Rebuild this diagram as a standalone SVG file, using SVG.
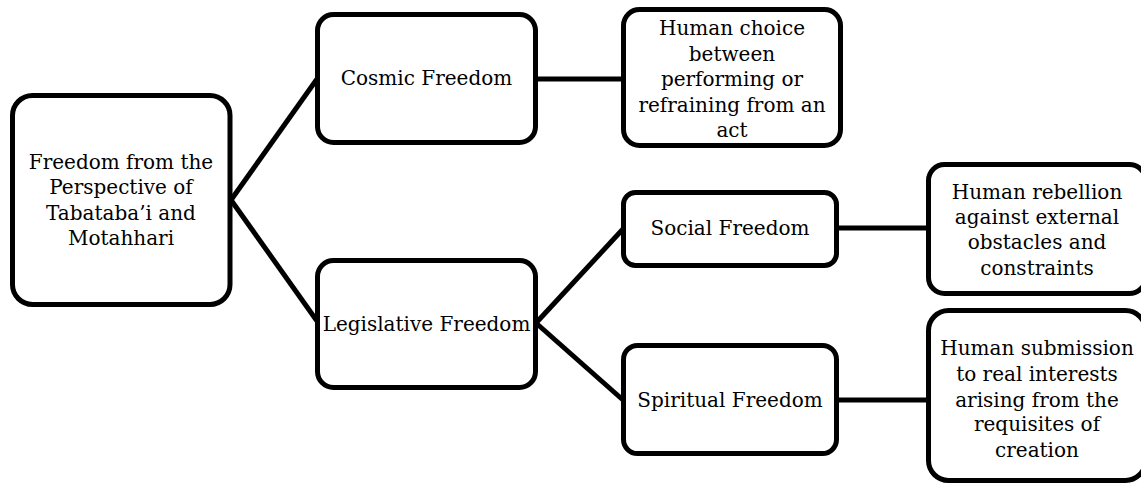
<svg xmlns="http://www.w3.org/2000/svg" width="1141" height="485" viewBox="0 0 1141 485">
<style>
.box{fill:#fff;stroke:#000;stroke-width:5}
.conn{stroke:#000;stroke-width:5;fill:none}
text{font-family:"DejaVu Serif","Liberation Serif",serif;font-size:20px;fill:#000;text-anchor:middle}
</style>
<rect width="1141" height="485" fill="#fff"/>
<g id="connectors">
<line class="conn" x1="231" y1="200" x2="317" y2="79"/>
<line class="conn" x1="231" y1="200" x2="317" y2="321"/>
<line class="conn" x1="536" y1="79" x2="623" y2="79"/>
<line class="conn" x1="536" y1="323" x2="623" y2="229"/>
<line class="conn" x1="536" y1="323" x2="623" y2="400"/>
<line class="conn" x1="837" y1="228" x2="928" y2="228"/>
<line class="conn" x1="837" y1="400" x2="928" y2="400"/>
</g>
<g id="root">
<rect class="box" x="12.5" y="95.5" width="217.5" height="209" rx="20"/>
<text x="121" y="169">Freedom from the</text>
<text x="121" y="194">Perspective of</text>
<text x="121" y="219.5">Tabataba’i and</text>
<text x="121" y="245">Motahhari</text>
</g>
<g id="cosmic">
<rect class="box" x="317.5" y="14.5" width="218" height="128" rx="16"/>
<text x="426.5" y="85">Cosmic Freedom</text>
</g>
<g id="choice">
<rect class="box" x="623.5" y="9.5" width="217" height="136" rx="16"/>
<text x="732" y="35">Human choice</text>
<text x="732" y="60.5">between</text>
<text x="732" y="86">performing or</text>
<text x="732" y="111.5">refraining from an</text>
<text x="732" y="137">act</text>
</g>
<g id="legislative">
<rect class="box" x="317.5" y="260.5" width="218" height="127" rx="16"/>
<text x="426.5" y="331">Legislative Freedom</text>
</g>
<g id="social">
<rect class="box" x="623.5" y="192.5" width="213" height="73" rx="12"/>
<text x="730" y="235">Social Freedom</text>
</g>
<g id="spiritual">
<rect class="box" x="623.5" y="345.5" width="213" height="108" rx="14"/>
<text x="730" y="407">Spiritual Freedom</text>
</g>
<g id="rebellion">
<rect class="box" x="928.5" y="164.5" width="217" height="129" rx="16"/>
<text x="1037" y="198.5">Human rebellion</text>
<text x="1037" y="223.5">against external</text>
<text x="1037" y="249">obstacles and</text>
<text x="1037" y="274.5">constraints</text>
</g>
<g id="submission">
<rect class="box" x="928.5" y="310.5" width="217" height="170" rx="20"/>
<text x="1037" y="355">Human submission</text>
<text x="1037" y="381">to real interests</text>
<text x="1037" y="406.5">arising from the</text>
<text x="1037" y="431">requisites of</text>
<text x="1037" y="456.5">creation</text>
</g>
</svg>
